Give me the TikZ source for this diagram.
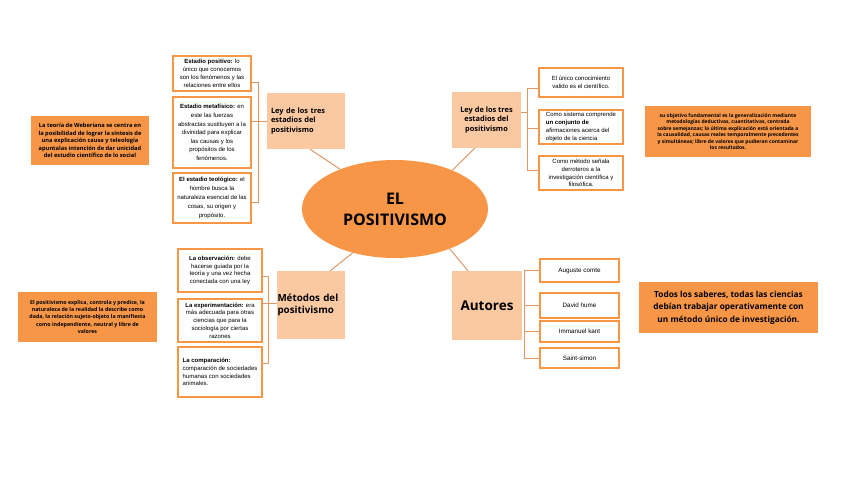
\documentclass[tikz,border=0pt]{standalone}
\usepackage{fontspec}
\setmainfont{Liberation Sans}
\newfontfamily\hdfont{Open Sans}
\usetikzlibrary{calc,shapes.geometric}
\definecolor{orng}{RGB}{247,150,70}
\definecolor{lite}{RGB}{250,201,161}
\definecolor{lnc}{RGB}{222,152,104}
\begin{document}
\begin{tikzpicture}[x=1pt,y=-1pt,
 wb/.style={draw=orng,line width=1.1pt,fill=white,align=center,inner sep=1pt,font=\fontsize{6}{7.8}\selectfont},
 hd/.style={fill=lite,inner sep=2pt,font=\hdfont\bfseries},
 note/.style={fill=orng,align=center,inner sep=1pt,font=\hdfont\bfseries},
 ln/.style={draw=lnc,line width=1pt}]
\useasboundingbox[fill=white] (0,0) rectangle (848,477);

% central ellipse
\node[ellipse,fill=orng,minimum width=186pt,minimum height=98pt,inner sep=0pt,align=center,
  font=\hdfont\bfseries\fontsize{16}{21}\selectfont] (el) at (395,209) {EL\\POSITIVISMO};

% ---------- top left ----------
\node[hd,minimum width=78pt,minimum height=56pt,align=left,text width=70pt,inner xsep=4pt,font=\hdfont\bfseries\fontsize{7.4}{9.8}\selectfont] (tlh) at (306,121) {Ley de los tres\\estadios del\\positivismo};
\node[wb,minimum width=78pt,minimum height=35pt] (tl1) at (212,73.5) {{\bfseries Estadio positivo:} lo\\único que conocemos\\son los fenómenos y las\\relaciones entre ellos};
\node[wb,minimum width=78pt,minimum height=71pt,font=\fontsize{6}{8.6}\selectfont] (tl2) at (212,132.5) {{\bfseries Estadio metafísico:} en\\este las fuerzas\\abstractas sustituyen a la\\divinidad para explicar\\las causas y los\\propósitos de los\\fenómenos.};
\node[wb,minimum width=78pt,minimum height=50pt,font=\fontsize{6}{8.8}\selectfont] (tl3) at (212,198) {{\bfseries El estadio teológico:} el\\hombre busca la\\naturaleza esencial de las\\cosas, su origen y\\propósito.};
\coordinate (tlv1) at (258,82);
\coordinate (tlv2) at (258,121);
\coordinate (tlv3) at (258,202);
\draw[ln] (tl1.east |- tlv1) -- (tlv1) -- (tlv3) -- (tl3.east |- tlv3);
\draw[ln] (tl2.east |- tlv2) -- (tlh.west |- tlv2);

\node[note,minimum width=118pt,minimum height=49pt,font=\hdfont\bfseries\fontsize{5.7}{7.5}\selectfont] (lo1) at (90,140.5) {La teoría de Weberiana se centra en\\la posibilidad de lograr la síntesis de\\una explicación causa y teleología\\apuntalas intención de dar unicidad\\del estudio científico de lo social};

% ---------- bottom left ----------
\node[hd,minimum width=68pt,minimum height=68pt,align=left,text width=67pt,inner xsep=0.5pt,font=\hdfont\bfseries\fontsize{9.8}{12.8}\selectfont] (blh) at (311,305) {Métodos del\\positivismo};
\node[wb,minimum width=84pt,minimum height=43pt] (bl1) at (220,270.5) {{\bfseries La observación:} debe\\hacerse guiada por la\\teoría y una vez hecha\\conectada con una ley};
\node[wb,minimum width=84pt,minimum height=43pt] (bl2) at (220,320.5) {{\bfseries La experimentación:} era\\más adecuada para otras\\ciencias que para la\\sociología por ciertas\\razones};
\node[wb,minimum width=84pt,minimum height=50pt,align=left,inner sep=3pt] (bl3) at (220,372) {{\bfseries La comparación:}\\comparación de sociedades\\humanas con sociedades\\animales.};
\coordinate (blv1) at (268,276);
\coordinate (blv2) at (268,303);
\coordinate (blv3) at (268,363);
\draw[ln] (bl1.east |- blv1) -- (blv1) -- (blv3) -- (bl3.east |- blv3);
\draw[ln] (bl2.east |- blv2) -- (blh.west |- blv2);

\node[note,minimum width=139pt,minimum height=50pt,font=\hdfont\bfseries\fontsize{5.3}{7.4}\selectfont] (lo2) at (87.5,317) {El positivismo explica, controla y predice, la\\naturaleza de la realidad la describe como\\dada, la relación sujeto-objeto la manifiesta\\como independiente, neutral y libre de\\valores};

% ---------- top right ----------
\node[hd,minimum width=69pt,minimum height=56pt,align=center,font=\hdfont\bfseries\fontsize{7.4}{9.8}\selectfont] (trh) at (486.5,120) {Ley de los tres\\estadios del\\positivismo};
\node[wb,minimum width=84pt,minimum height=29pt] (tr1) at (581,82.5) {El único conocimiento\\valido es el científico.};
\node[wb,minimum width=84pt,minimum height=34pt,align=left,inner sep=2pt] (tr2) at (581,127) {Como sistema comprende\\{\bfseries un conjunto de}\\afirmaciones acerca del\\objeto de la ciencia};
\node[wb,minimum width=84pt,minimum height=34pt] (tr3) at (581,173) {Como método señala\\derroteros a la\\investigación científica y\\filosófica.};
\coordinate (trv1) at (527,88);
\coordinate (trv2) at (527,128);
\coordinate (trv3) at (527,170);
\coordinate (trc) at (527,112);
\draw[ln] (tr1.west |- trv1) -- (trv1) -- (trv3) -- (tr3.west |- trv3);
\draw[ln] (tr2.west |- trv2) -- (trv2);
\draw[ln] (trh.east |- trc) -- (trc);

\node[note,minimum width=166pt,minimum height=51pt,font=\hdfont\bfseries\fontsize{5}{6.5}\selectfont] (ro1) at (728,131.5) {su objetivo fundamental es la generalización mediante\\metodologías deductivas, cuantitativas, centrada\\sobre semejanzas; la última explicación está orientada a\\la causalidad, causas reales temporalmente precedentes\\y simultáneas; libre de valores que pudieran contaminar\\los resultados.};

% ---------- bottom right ----------
\node[hd,minimum width=70pt,minimum height=69pt,font=\hdfont\bfseries\fontsize{13.5}{16}\selectfont] (au) at (487,305.5) {Autores};
\node[wb,minimum width=79pt,minimum height=23pt,font=\fontsize{6.3}{7.8}\selectfont] (br1) at (579.5,270.5) {Auguste comte};
\node[wb,minimum width=79pt,minimum height=25pt,font=\fontsize{6.3}{7.8}\selectfont] (br2) at (579.5,305.5) {David hume};
\node[wb,minimum width=79pt,minimum height=21pt,font=\fontsize{6.3}{7.8}\selectfont] (br3) at (579.5,331.5) {Immanuel kant};
\node[wb,minimum width=79pt,minimum height=20pt,font=\fontsize{6.3}{7.8}\selectfont] (br4) at (579.5,358) {Saint-simon};
\coordinate (brv) at (524,300);
\draw[ln] (br1.west) -- (br1.west -| brv) -- (br4.west -| brv) -- (br4.west);
\draw[ln] (br2.west) -- (br2.west -| brv);
\draw[ln] (br3.west) -- (br3.west -| brv);

\node[note,minimum width=179pt,minimum height=51pt,font=\hdfont\bfseries\fontsize{8.3}{12.5}\selectfont] (ro2) at (728.5,307.5) {Todos los saberes, todas las ciencias\\debían trabajar operativamente con\\un método único de investigación.};

% ---------- connectors to ellipse ----------
\draw[ln] ($(tlh.south west)!0.55!(tlh.south east)$) -- (el.144);
\draw[ln] ($(trh.south west)!0.33!(trh.south east)$) -- (el.34);
\draw[ln] ($(blh.north west)!0.78!(blh.north east)$) -- (el.226);
\draw[ln] ($(au.north west)!0.23!(au.north east)$) -- (el.324);
\end{tikzpicture}
\end{document}
